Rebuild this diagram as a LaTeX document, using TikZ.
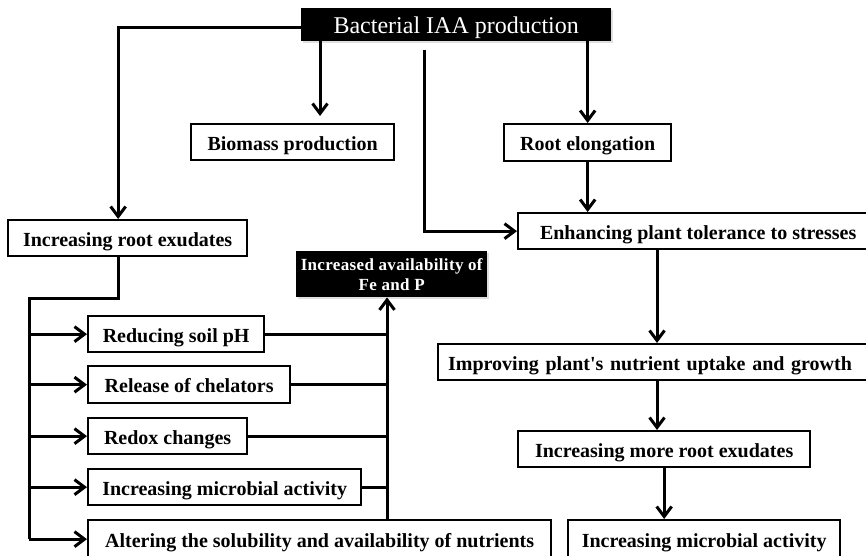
\documentclass[tikz,border=0pt]{standalone}
\usepackage{fontspec}
\setmainfont{Liberation Serif}[Ligatures=TeXOff]
\usetikzlibrary{arrows.meta,shadows}
\begin{document}
\begin{tikzpicture}[x=1pt,y=-1pt,
  box/.style={draw=black, line width=2.3pt, fill=white, anchor=north west,
    inner xsep=2pt, inner ysep=0pt, text height=17pt, text depth=1pt,
    font=\bfseries\fontsize{20}{22}\selectfont},
  dark/.style={fill=black, text=white, anchor=north west, inner sep=0pt,
    align=center, drop shadow={opacity=0.25, shadow xshift=1.5pt, shadow yshift=-1.5pt}},
  conn/.style={line width=3pt},
  arr/.style={conn, -{Straight Barb[length=10pt,width=15pt]}},
]
\useasboundingbox (0,0) rectangle (866,555);
\fill[white] (0,0) rectangle (866,555);
\clip (0,0) rectangle (866,555);

% top level
\node[dark, minimum width=310pt, minimum height=33pt, text height=18pt, text depth=1pt,
  font=\fontsize{24}{26}\selectfont] (top) at (301,8) {Bacterial IAA production};

% first row
\node[box, minimum width=203pt, minimum height=36pt] (bio) at (190,123) {Biomass production};
\node[box, minimum width=167pt, minimum height=37pt] (root) at (503,123) {Root elongation};
\node[box, minimum width=239pt, minimum height=36pt] (rootex) at (7,219) {Increasing root exudates};
\node[box, minimum width=360pt, minimum height=36pt] (enh) at (517,212) {Enhancing plant tolerance to stresses};

% left branch: effects of root exudates
\node[dark, minimum width=191pt, minimum height=46pt,
  font=\bfseries\fontsize{17}{20}\selectfont\addfontfeature{LetterSpace=2}] (fe) at (296,251) {Increased availability of\\Fe and P};
\node[box, minimum width=176pt, minimum height=36pt] (red) at (87,315) {Reducing soil pH};
\node[box, minimum width=202pt, minimum height=37pt] (rel) at (87,365) {Release of chelators};
\node[box, minimum width=159pt, minimum height=36pt] (rdx) at (87,417) {Redox changes};
\node[box, minimum width=273pt, minimum height=36pt] (mic) at (87,468) {Increasing microbial activity};
\node[box, minimum width=463pt, minimum height=38pt] (alt) at (87,519) {Altering the solubility and availability of nutrients};

% right branch
\node[box, inner xsep=10pt, text width=423pt, align=left, minimum height=36pt] (impr) at (437,343) {Improving plant's nutrient uptake and growth};
\node[box, minimum width=292pt, minimum height=36pt] (more) at (517,430) {Increasing more root exudates};
\node[box, minimum width=272pt, minimum height=38pt] (micro) at (567,519) {Increasing microbial activity};

% helper coordinates
\coordinate (bioX) at (320,0);
\coordinate (split) at (424,50);
\coordinate (colC) at (657,0);
\coordinate (trunk) at (29,298);
\coordinate (colR) at (387,0);

% connectors from the top
\draw[arr] ([yshift=-2.5pt]top.west) -| ([xshift=-9.5pt]rootex.north);
\draw[arr, shorten >=7pt] (top.south -| bioX) -- (bio.north -| bioX);
\draw[arr] (top.south -| root.north) -- (root.north);
\draw[arr] (split) |- (enh.west);
\draw[arr] (root.south) -- (root.south |- enh.north);

% right chain
\draw[arr] (enh.south -| colC) -- (impr.north -| colC);
\draw[arr] (impr.south -| colC) -- (more.north -| colC);
\draw[arr] (more.south) -- (more.south |- micro.north);

% left trunk and branches
\draw[conn] ([xshift=-9.5pt]rootex.south) |- (trunk) -- (trunk |- alt.west);
\foreach \n in {red,rel,rdx,mic,alt}
  \draw[arr] (trunk |- \n.west) -- (\n.west);
\foreach \n in {red,rel,rdx,mic}
  \draw[conn] (\n.east) -- (\n.east -| colR);
\draw[arr] (alt.north -| colR) -- (fe.south -| colR);
\end{tikzpicture}
\end{document}
